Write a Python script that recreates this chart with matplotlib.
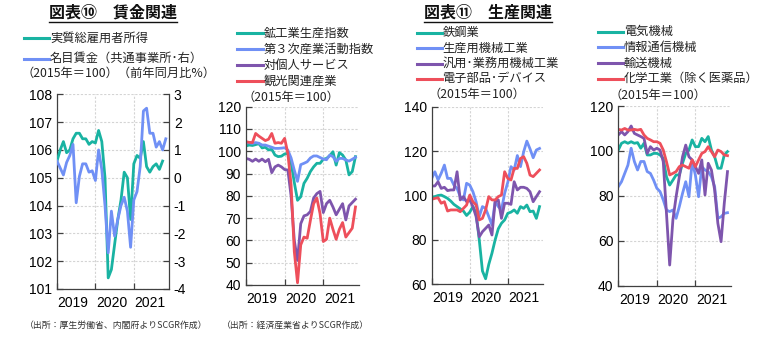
"""Wage and production indicators, Jan 2019 - Nov 2021 (monthly)."""
import matplotlib
matplotlib.use("Agg")
import matplotlib.pyplot as plt
from matplotlib.lines import Line2D
import numpy as np

W, H = 767, 349

TEAL = "#19b3a2"
BLUE = "#7090f5"
PURPLE = "#7e55ad"
RED = "#ee4f5b"

YEAR_LABELS = ["2019", "2020", "2021"]

# --- 図表⑩ 賃金関連 ---
real_income = [105.6, 106.0, 106.3, 105.9, 106.0, 106.4, 106.6, 106.6, 106.4, 106.4,
               106.2, 106.3, 106.25, 106.7, 106.3, 105.0, 101.4, 101.7, 102.6, 103.5,
               104.2, 105.2, 105.0, 103.5, 105.5, 105.8, 105.7, 106.3, 105.4, 105.2,
               105.4, 105.5, 105.3, 105.6]
nominal_wage_yoy = [0.6, 0.35, 0.1, 0.55, 0.8, 1.2, -0.9, 0.05, 0.5, 0.5,
                    0.2, 0.25, -0.1, 1.0, 0.3, -1.0, -2.7, -1.2, -2.1, -1.5,
                    -1.0, -0.7, -1.2, -2.5, -0.8, -0.5, 0.4, 2.4, 2.5, 1.6,
                    1.6, 1.1, 1.3, 1.0, 1.4]

# --- activity indices ---
iip = [102.4, 102.8, 102.6, 103.0, 103.4, 101.5, 101.8, 100.6, 100.9, 98.3,
       97.6, 97.8, 98.8, 99.0, 95.0, 86.0, 78.0, 79.6, 85.6, 87.9,
       90.9, 93.0, 94.6, 94.6, 96.4, 96.8, 98.0, 99.8, 93.8, 99.4,
       98.3, 96.1, 89.4, 90.9, 97.6]
tertiary = [103.9, 103.8, 103.5, 103.9, 103.6, 102.8, 102.8, 102.3, 101.8, 101.3,
            101.3, 101.4, 101.6, 100.5, 97.0, 91.5, 86.5, 94.0, 94.6, 95.3,
            97.0, 97.9, 97.9, 97.2, 96.5, 96.2, 98.3, 97.6, 95.5, 96.8,
            96.8, 96.1, 95.6, 96.4, 97.3]
personal_services = [96.8, 96.4, 95.5, 96.5, 95.5, 96.5, 95.3, 96.4, 90.4, 93.0,
                     93.8, 93.0, 91.8, 91.6, 80.0, 60.0, 51.0, 67.5, 71.0, 71.5,
                     73.0, 79.0, 81.0, 82.0, 72.5, 76.5, 78.0, 75.0, 71.5, 74.0,
                     76.5, 69.2, 75.5, 77.0, 78.5]
tourism = [104.3, 104.0, 103.9, 108.0, 106.8, 105.8, 104.8, 105.4, 108.0, 103.6,
           103.9, 103.6, 105.8, 99.0, 85.0, 55.0, 41.0, 58.0, 61.5, 61.0,
           69.0, 76.5, 79.0, 72.0, 59.5, 60.5, 70.0, 65.0, 60.5, 65.0,
           68.0, 61.5, 63.5, 65.5, 75.0]

# --- 図表⑪ 生産関連 ---
steel = [99.2, 99.5, 100.0, 100.2, 99.5, 98.7, 97.5, 96.0, 95.0, 94.0,
         93.0, 91.0, 92.5, 95.0, 92.0, 80.0, 66.0, 62.5, 69.0, 74.0,
         80.0, 85.0, 87.5, 89.0, 92.0, 92.5, 93.5, 92.0, 95.0, 94.2,
         95.7, 92.7, 93.0, 89.7, 95.0]
production_machinery = [107.7, 110.7, 107.0, 110.0, 113.7, 107.7, 107.7, 104.7, 103.2, 99.5,
                        98.0, 105.5, 104.7, 101.7, 97.2, 90.5, 95.0, 94.2, 90.5, 86.7,
                        97.2, 95.0, 93.5, 101.0, 106.0, 113.0, 111.5, 118.0, 113.0, 119.7,
                        124.5, 121.0, 117.0, 120.5, 121.2]
general_machinery = [104.3, 104.3, 106.2, 103.2, 103.7, 102.2, 102.5, 102.5, 110.7, 98.0,
                     99.5, 97.2, 98.0, 95.0, 90.5, 81.4, 83.7, 85.2, 86.7, 82.2,
                     97.2, 98.0, 89.7, 96.5, 96.5, 96.0, 106.2, 102.5, 103.7, 103.7,
                     103.2, 101.7, 97.2, 99.5, 101.7]
electronic_parts = [98.3, 98.7, 99.0, 96.5, 97.2, 93.0, 93.5, 93.5, 93.5, 92.7,
                    94.2, 95.7, 100.2, 97.2, 95.7, 89.0, 89.7, 93.5, 99.5, 98.0,
                    98.0, 99.5, 100.2, 110.7, 107.7, 107.0, 112.2, 112.2, 116.7, 117.5,
                    114.5, 109.2, 108.5, 110.0, 111.5]

electrical = [100.4, 103.4, 104.1, 103.4, 104.1, 103.4, 103.7, 101.2, 103.4, 98.2,
              98.2, 98.9, 98.9, 98.2, 96.7, 88.5, 84.8, 87.0, 89.3, 89.3,
              94.5, 98.9, 100.4, 104.9, 101.9, 101.9, 105.6, 104.1, 106.4, 100.4,
              97.4, 92.3, 92.3, 98.2, 99.7]
ict_equipment = [84.1, 86.3, 90.0, 93.7, 101.2, 95.3, 91.5, 95.3, 95.3, 90.8,
                 90.0, 87.0, 83.4, 81.9, 78.2, 73.7, 73.0, 73.7, 70.0, 75.2,
                 81.1, 86.3, 79.6, 95.3, 89.3, 79.6, 93.0, 91.5, 90.8, 88.5,
                 84.1, 70.0, 70.7, 72.2, 72.5]
transport = [107.1, 108.6, 107.1, 108.6, 111.1, 107.8, 107.1, 106.4, 105.6, 98.9,
             101.9, 100.4, 101.2, 100.4, 95.2, 72.2, 49.2, 69.3, 79.6, 88.5,
             97.4, 102.6, 97.4, 96.0, 93.0, 90.0, 96.0, 80.4, 94.5, 91.5,
             82.6, 67.8, 59.6, 76.7, 90.8]
chemicals = [109.6, 109.3, 110.0, 109.3, 109.3, 109.6, 109.3, 109.6, 107.1, 105.6,
             104.9, 104.1, 104.1, 103.4, 100.4, 95.2, 89.3, 90.0, 90.8, 93.0,
             93.7, 93.0, 92.3, 96.0, 93.0, 96.0, 98.9, 99.7, 101.9, 99.7,
             97.4, 100.4, 99.7, 98.2, 97.9]

JP = ["Noto Sans CJK JP", "DejaVu Sans"]
NUM = ["Liberation Sans", "DejaVu Sans"]
SPINE = "#404040"
LW = 2.0
LEG_FS = 8.8

plt.rcParams["axes.unicode_minus"] = False


def px_axes(fig, left, top, right, bottom):
    return fig.add_axes([left / W, 1 - bottom / H, (right - left) / W, (bottom - top) / H])


def style_axes(ax, ylim, yticks):
    ax.set_xlim(0, 35)
    ax.set_ylim(*ylim)
    ax.set_yticks(yticks)
    ax.set_xticks([0, 12, 24])
    ax.set_xticklabels([])
    ax.set_xticks([5, 17, 29], minor=True)
    ax.set_xticklabels(YEAR_LABELS, minor=True)
    ax.tick_params(axis="x", which="minor", length=0, pad=5)
    ax.tick_params(axis="both", which="major", direction="in", length=4,
                   color=SPINE, width=0.9)
    ax.tick_params(labelsize=10)
    for lab in ax.get_xticklabels(minor=True) + ax.get_yticklabels():
        lab.set_fontfamily(NUM)
    ax.grid(True, which="major", color="#d4d4d4", linestyle=(0, (2, 1.5)), linewidth=0.8)
    ax.set_axisbelow(True)
    for side in ("top", "right"):
        ax.spines[side].set_visible(False)
    for side in ("left", "bottom"):
        ax.spines[side].set_color(SPINE)
        ax.spines[side].set_linewidth(0.9)


def legend_block(fig, x0, y0, dy, entries):
    for i, (label, color) in enumerate(entries):
        y = 1 - (y0 + i * dy) / H
        fig.add_artist(Line2D([x0 / W, (x0 + 25) / W], [y, y], color=color,
                              linewidth=2.2, transform=fig.transFigure))
        fig.text((x0 + 26) / W, y, label, fontsize=LEG_FS, family=JP,
                 va="center", ha="left", color="#222222")


def underlined_title(fig, x, y, text):
    t = fig.text(x / W, 1 - y / H, text, fontsize=11.5, fontweight="bold",
                 family=JP, ha="left", va="center", color="#111111")
    fig.canvas.draw()
    bb = t.get_window_extent().transformed(fig.transFigure.inverted())
    fig.add_artist(Line2D([bb.x0, bb.x1], [bb.y0 - 1 / H, bb.y0 - 1 / H],
                          color="#111111", linewidth=1.0, transform=fig.transFigure))


def main():
    fig = plt.figure(figsize=(W / 100, H / 100), dpi=100)
    fig.patch.set_facecolor("white")

    # panel 1: real income (left) and nominal wage yoy (right)
    ax1 = px_axes(fig, 57, 94.3, 169, 289)
    style_axes(ax1, (101, 108), np.arange(101, 109, 1))
    ax1.plot(np.arange(len(real_income)), real_income, color=TEAL, lw=LW, zorder=3)
    ax1r = ax1.twinx()
    ax1r.set_ylim(-4, 3)
    ax1r.set_yticks(np.arange(-4, 4, 1))
    ax1r.tick_params(direction="in", length=4, color=SPINE, width=0.9, labelsize=10)
    for lab in ax1r.get_yticklabels():
        lab.set_fontfamily(NUM)
    for side in ("top", "left", "bottom"):
        ax1r.spines[side].set_visible(False)
    ax1r.spines["right"].set_color(SPINE)
    ax1r.spines["right"].set_linewidth(0.9)
    ax1r.plot(np.arange(len(nominal_wage_yoy)), nominal_wage_yoy, color=BLUE, lw=LW, zorder=2)

    # panel 2: activity indices
    ax2 = px_axes(fig, 246, 106.7, 358.7, 285)
    style_axes(ax2, (40, 120), np.arange(40, 121, 10))
    for series, color in [(iip, TEAL), (tertiary, BLUE),
                          (personal_services, PURPLE), (tourism, RED)]:
        ax2.plot(np.arange(len(series)), series, color=color, lw=LW)

    # panel 3: production by industry (1)
    ax3 = px_axes(fig, 431.7, 106.7, 542.7, 284.3)
    style_axes(ax3, (60, 140), np.arange(60, 141, 20))
    for series, color in [(steel, TEAL), (production_machinery, BLUE),
                          (general_machinery, PURPLE), (electronic_parts, RED)]:
        ax3.plot(np.arange(len(series)), series, color=color, lw=LW)

    # panel 4: production by industry (2)
    ax4 = px_axes(fig, 618.3, 106, 730.7, 285.7)
    style_axes(ax4, (40, 120), np.arange(40, 121, 20))
    for series, color in [(electrical, TEAL), (ict_equipment, BLUE),
                          (transport, PURPLE), (chemicals, RED)]:
        ax4.plot(np.arange(len(series)), series, color=color, lw=LW)

    # titles
    underlined_title(fig, 49, 13, "図表⑩　賃金関連")
    underlined_title(fig, 424, 13, "図表⑪　生産関連")

    # legends
    legend_block(fig, 24, 38, 20.7, [("実質総雇用者所得", TEAL),
                                     ("名目賃金（共通事業所･右）", BLUE)])
    fig.text(22 / W, 1 - 73 / H, "（2015年＝100）（前年同月比%）", fontsize=LEG_FS,
             family=JP, va="center", ha="left", color="#222222")

    legend_block(fig, 237.5, 33.3, 15.9, [("鉱工業生産指数", TEAL),
                                          ("第３次産業活動指数", BLUE),
                                          ("対個人サービス", PURPLE),
                                          ("観光関連産業", RED)])
    fig.text(243 / W, 1 - 97 / H, "（2015年＝100）", fontsize=LEG_FS,
             family=JP, va="center", ha="left", color="#222222")

    legend_block(fig, 416.5, 32.7, 15.4, [("鉄鋼業", TEAL),
                                          ("生産用機械工業", BLUE),
                                          ("汎用･業務用機械工業", PURPLE),
                                          ("電子部品･デバイス", RED)])
    fig.text(429 / W, 1 - 94 / H, "（2015年＝100）", fontsize=LEG_FS,
             family=JP, va="center", ha="left", color="#222222")

    legend_block(fig, 598, 31.7, 15.6, [("電気機械", TEAL),
                                        ("情報通信機械", BLUE),
                                        ("輸送機械", PURPLE),
                                        ("化学工業（除く医薬品）", RED)])
    fig.text(609 / W, 1 - 95 / H, "（2015年＝100）", fontsize=LEG_FS,
             family=JP, va="center", ha="left", color="#222222")

    # sources
    fig.text(25 / W, 1 - 325.5 / H, "（出所：厚生労働省、内閣府よりSCGR作成）",
             fontsize=6.4, family=JP, va="center", ha="left", color="#333333")
    fig.text(222 / W, 1 - 325.5 / H, "（出所：経済産業省よりSCGR作成）",
             fontsize=6.4, family=JP, va="center", ha="left", color="#333333")

    fig.savefig("out.png", dpi=100)


if __name__ == "__main__":
    main()
